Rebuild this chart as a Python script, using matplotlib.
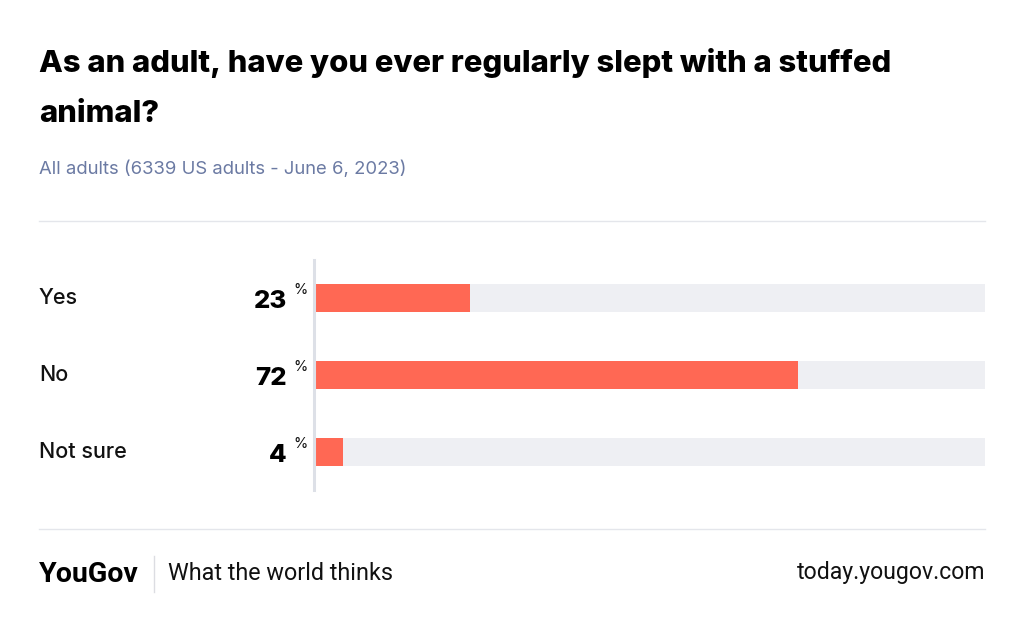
import matplotlib.pyplot as plt
from matplotlib.transforms import blended_transform_factory

categories = ["Yes", "No", "Not sure"]
values = [23, 72, 4]

title_lines = ["As an adult, have you ever regularly slept with a stuffed", "animal?"]
subtitle = "All adults (6339 US adults - June 6, 2023)"

W, H = 1024, 632
fig = plt.figure(figsize=(W / 100, H / 100), dpi=100)
plt.rcParams['font.family'] = ['Inter', 'DejaVu Sans']


def fx(px):
    return px / W


def fy(py):
    return 1 - py / H


# bar area
ax = fig.add_axes([fx(316), fy(490), fx(985) - fx(316), (490 - 260) / H])
pos = list(range(len(categories)))
ax.barh(pos, [100] * len(values), height=0.364, color='#eeeff3', zorder=1)
ax.barh(pos, values, height=0.364, color='#ff6854', zorder=2)
ax.set_xlim(0, 100)
half = 115 / 77
ax.set_ylim(1 + half, 1 - half)
ax.set_xticks([])
ax.set_yticks([])
for s in ['top', 'right', 'bottom']:
    ax.spines[s].set_visible(False)
ax.spines['left'].set_color('#dde0e7')
ax.spines['left'].set_linewidth(2.2)
ax.spines['left'].set_position(('outward', 1.5))

tr = blended_transform_factory(fig.transFigure, ax.transData)
for i, (c, v) in enumerate(zip(categories, values)):
    ax.text(fx(39), i, c, transform=tr, fontsize=15.5, fontweight='medium',
            va='center', ha='left', color='#111111')
    ax.text(fx(287), i + 0.04, str(v), fontsize=18.5, fontweight='heavy', va='center',
            ha='right', color='#000000', transform=tr)
    ax.text(fx(293), i - 0.1, "%", fontsize=10.5, va='center', ha='left',
            color='#111111', transform=tr)

# header
fig.text(fx(39), fy(63), title_lines[0],
         fontsize=22.3, fontweight='heavy', va='center', ha='left', color='#000000')
fig.text(fx(39), fy(114), title_lines[1],
         fontsize=22.3, fontweight='heavy', va='center', ha='left', color='#000000')
fig.text(fx(39), fy(169), subtitle, fontsize=13.3, va='center', ha='left', color='#6b7aa3')

# rules
for py in (221, 529):
    fig.add_artist(plt.Line2D([fx(39), fx(985)], [fy(py), fy(py)], color='#e4e6eb',
                              lw=1, transform=fig.transFigure))
fig.add_artist(plt.Line2D([fx(154), fx(154)], [fy(556), fy(592)], color='#dcdde2',
                          lw=1, transform=fig.transFigure))

# footer
fig.text(fx(39), fy(574), "YouGov", fontsize=20.5, fontweight='bold', va='center',
         ha='left', color='#000000', family=['Roboto', 'DejaVu Sans'])
fig.text(fx(168), fy(573), "What the world thinks", fontsize=16.8, va='center', ha='left',
         color='#111111', family=['Roboto', 'DejaVu Sans'])
fig.text(fx(985), fy(573), "today.yougov.com", fontsize=16.6, va='center', ha='right',
         color='#111111', family=['Roboto', 'DejaVu Sans'])

fig.savefig("out.png", dpi=100)
